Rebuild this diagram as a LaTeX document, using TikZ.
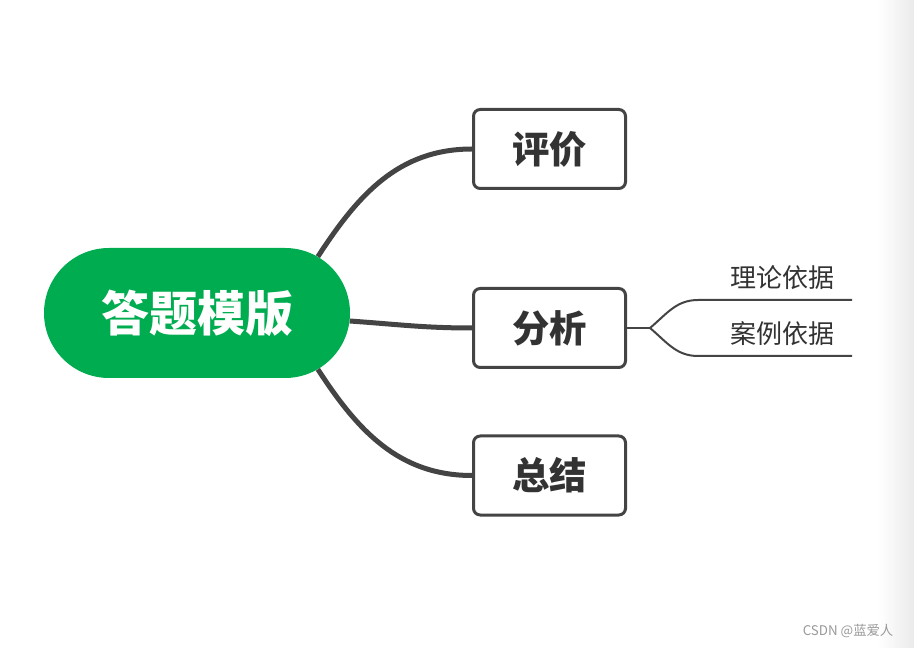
\documentclass[tikz,border=0pt]{standalone}
\usepackage{fontspec}
\newfontfamily\cjk{Noto Sans CJK SC}
\usetikzlibrary{shapes.misc}
\definecolor{mapgreen}{RGB}{0,172,80}
\definecolor{mapline}{RGB}{68,68,68}
\definecolor{maptext}{RGB}{51,51,51}
\tikzset{
  root/.style={rounded rectangle, fill=mapgreen, text=white,
    minimum width=229.5pt, minimum height=97.5pt, inner sep=0pt,
    font=\cjk\bfseries\fontsize{36}{40}\selectfont},
  topic/.style={draw=mapline, line width=2.25pt, rounded corners=5pt, fill=white,
    text=maptext, minimum width=114pt, minimum height=59.25pt, inner sep=0pt,
    font=\cjk\bfseries\fontsize{28}{32}\selectfont},
  sub/.style={text=maptext, inner sep=0pt, font=\cjk\fontsize{19.5}{22}\selectfont},
  branch/.style={draw=mapline, line width=3.75pt},
  twig/.style={draw=mapline, line width=1.5pt}
}
\begin{document}
\begin{tikzpicture}[x=0.75pt, y=-0.75pt]
  \useasboundingbox (0,0) rectangle (914,648);
  \shade[left color=white, right color=black!8] (878,0) rectangle (914,648);

  % main topic and the three branches
  \node[root]  at (197,313) (dtmb) {答题模版};
  \node[topic] at (549.5,149) (pj) {评价};
  \node[topic] at (549.5,328) (fx) {分析};
  \node[topic] at (549.5,475.5) (zj) {总结};

  \draw[branch] (dtmb.25)  to[out=57, in=180] (pj.west);
  \draw[branch] (dtmb.-3)  to[out=-4, in=180] (fx.west);
  \draw[branch] (dtmb.-25) to[out=-57, in=180] (zj.west);

  % sub topics of fx
  \node[sub] at (782,278) (llyj) {理论依据};
  \node[sub] at (782,334) (alyj) {案例依据};
  \coordinate (fork) at (650,328);
  \coordinate (llyj-l) at (698,300);
  \coordinate (llyj-r) at (852,300);
  \coordinate (alyj-l) at (698,356);
  \coordinate (alyj-r) at (852,356);

  \draw[twig] (fx.east) -- (fork);
  \draw[twig] (fork) to[out=40, in=180] (llyj-l) -- (llyj-r);
  \draw[twig] (fork) to[out=-40, in=180] (alyj-l) -- (alyj-r);

  \node[text=black!40, font=\cjk\fontsize{10}{12}\selectfont] at (848,631) (wm) {CSDN @蓝爱人};
\end{tikzpicture}
\end{document}
